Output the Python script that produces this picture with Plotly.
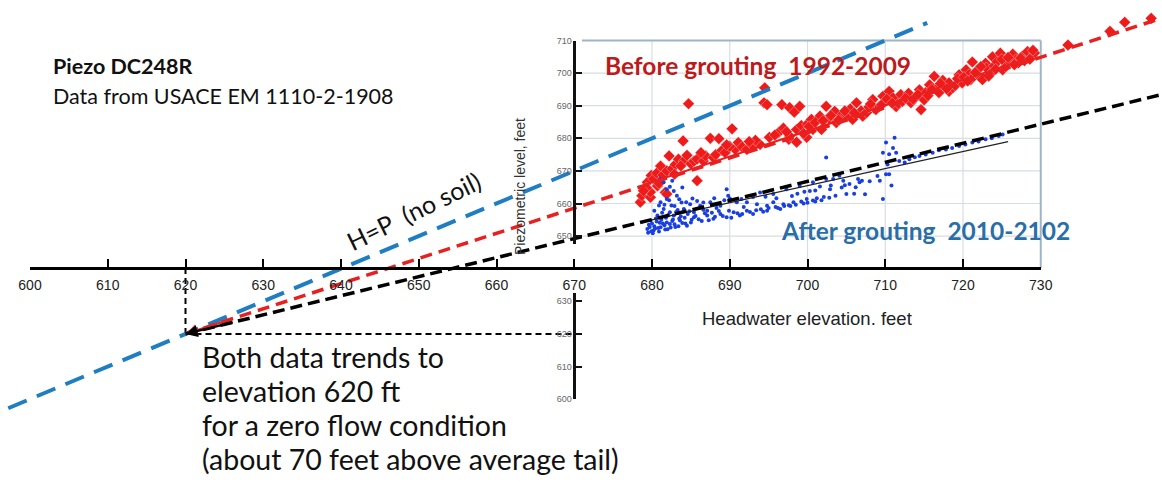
import plotly.graph_objects as go

W, H = 1162, 488
# pixel calibration of the picture (layout constants)
X0_PX, X0_VAL, SX = 30.0, 600.0, 7.775
Y0_PX, Y0_VAL, SY = 40.5, 710.0, 3.26


def xpx(v):
    return X0_PX + (v - X0_VAL) * SX


def ypx(v):
    return Y0_PX + (Y0_VAL - v) * SY


def fx(px):
    return px / W


def fy(py):
    return 1 - py / H


# ---------------- data ----------------
main_ticks = [600, 610, 620, 630, 640, 650, 660, 670, 680, 690, 700, 710, 720, 730]
inset_upper_ticks = [650, 660, 670, 680, 690, 700, 710]
inset_lower_ticks = [600, 610, 620, 630]
grid_x = [680, 690, 700, 710, 720]
grid_y = [650, 660, 670, 680, 690, 700]
inset_x_range = [670, 730]
inset_y_range = [640.2, 710]

before_x = [678.5, 678.7, 679.4, 679.8, 679.8, 679.9, 680.2, 680.6, 680.7, 681.1,
            681.4, 681.7, 681.9, 681.9, 682.2, 682.6, 683.0, 683.4, 684.0, 684.1,
            684.7, 685.0, 685.4, 685.8, 685.8, 686.6, 686.9, 687.5, 687.9, 688.2,
            688.6, 689.0, 689.4, 690.3, 690.7, 691.1, 691.6, 692.2, 692.9, 693.9,
            694.4, 694.5, 694.8, 695.1, 696.3, 696.7, 696.9, 697.6, 697.7, 697.7,
            698.3, 698.6, 698.6, 699.0, 699.2, 699.9, 700.0, 700.5, 700.7, 701.6,
            701.8, 702.4, 702.8, 703.5, 703.7, 704.3, 705.0, 705.5, 705.8, 706.3,
            706.9, 707.1, 707.6, 708.4, 708.8, 709.2, 709.7, 709.9, 710.5, 711.0,
            711.4, 711.7, 712.0, 712.2, 713.0, 713.3, 713.9, 714.4, 714.6, 715.0,
            715.2, 715.7, 716.3, 716.9, 716.9, 717.4, 718.2, 718.2, 718.7, 719.0,
            719.5, 719.9, 720.4, 720.8, 721.0, 721.2, 721.9, 722.0, 722.5, 722.9,
            723.0, 723.6, 723.8, 724.0, 724.4, 724.8, 725.1, 725.5, 726.0, 726.4,
            726.8, 727.1, 727.6, 727.9, 728.3, 728.9, 729.2, 733.5, 738.9, 740.8,
            744.2,
            699.5, 700.2, 701.0, 702.0, 703.0, 704.0, 704.8, 706.0, 707.9, 708.1,
            709.5, 710.2, 710.9, 712.6, 713.6, 714.2, 715.5, 716.0, 717.1, 717.9,
            719.3, 720.1, 720.6, 721.6, 722.3, 723.3, 724.2, 725.0, 725.8, 726.6,
            727.4, 728.6, 729.0, 697.3, 695.8, 693.3, 692.5, 690.0, 689.6, 686.3,
            684.5, 683.7, 682.9, 680.9, 679.3, 678.9]
before_y = [660.4, 662.4, 666.5, 661.9, 663.5, 668.6, 667.5, 669.3, 665.4, 671.5,
            668.7, 663.4, 670.0, 662.9, 674.6, 670.7, 672.0, 673.6, 679.2, 673.0,
            690.6, 672.2, 673.0, 667.0, 673.6, 673.0, 674.6, 680.0, 674.1, 675.0,
            679.9, 676.3, 675.6, 682.9, 676.6, 678.7, 677.3, 676.6, 677.8, 678.1,
            690.9, 695.5, 690.3, 680.3, 681.8, 690.3, 683.1, 679.7, 689.4, 680.7,
            688.0, 682.7, 678.8, 689.8, 683.9, 680.3, 684.4, 685.8, 682.7, 686.8,
            682.7, 689.8, 686.0, 688.3, 684.8, 686.9, 687.3, 689.0, 685.8, 690.9,
            688.4, 686.8, 687.9, 691.9, 688.8, 689.7, 692.9, 691.2, 694.4, 692.4,
            689.7, 690.7, 693.4, 691.3, 693.8, 690.9, 692.5, 694.9, 688.8, 691.8,
            694.0, 696.4, 699.0, 695.9, 694.0, 697.8, 697.0, 694.4, 695.5, 696.2,
            699.5, 697.0, 701.0, 699.6, 698.0, 703.4, 701.0, 699.2, 698.0, 703.0,
            701.6, 700.0, 705.0, 702.2, 703.5, 706.1, 701.0, 702.0, 703.5, 705.8,
            704.1, 703.1, 705.1, 703.8, 706.6, 705.1, 706.2, 708.6, 712.8, 715.6,
            716.8,
            681.5, 683.6, 684.9, 685.4, 687.0, 685.6, 688.4, 687.8, 689.6, 690.5,
            690.2, 692.0, 690.8, 692.3, 692.0, 693.4, 693.1, 695.0, 696.8, 695.2,
            698.3, 698.7, 697.6, 700.2, 702.0, 699.1, 701.2, 704.2, 704.8, 702.6,
            704.6, 704.3, 707.0, 682.0, 681.0, 679.4, 679.0, 677.5, 678.0, 675.6,
            674.8, 671.5, 669.0, 666.2, 664.8, 663.9]

after_x = [679.4, 679.6, 679.8, 679.9, 680.2, 680.3, 680.5, 680.7, 680.8, 681.0,
           681.1, 681.1, 681.3, 681.5, 681.5, 681.6, 681.8, 681.9, 681.9, 682.0,
           682.3, 682.3, 682.3, 682.5, 682.6, 682.8, 683.0, 683.2, 683.3, 683.5,
           683.6, 683.8, 684.1, 684.3, 684.6, 684.9, 685.1, 685.4, 685.4, 685.8,
           686.2, 686.4, 686.8, 687.1, 687.1, 687.5, 687.9, 688.3, 688.8, 688.8,
           689.3, 689.6, 689.6, 689.8, 690.5, 690.9, 691.3, 691.8, 692.2, 692.2,
           693.0, 693.5, 693.9, 694.3, 694.8, 694.8, 695.6, 695.6, 696.2, 696.5,
           696.9, 697.3, 697.8, 698.2, 698.7, 699.0, 699.5, 699.9, 700.3, 700.7,
           700.7, 701.2, 701.6, 702.1, 702.4, 702.4, 702.9, 702.8, 703.3, 703.6,
           704.1, 704.4, 704.6, 705.0, 705.4, 706.0, 706.5, 706.7, 707.4, 709.3,
           709.7, 709.7, 710.1, 710.1, 710.5, 710.5, 711.2, 711.4, 711.8, 712.5,
           713.1, 713.8, 714.4, 715.2, 716.1, 716.9, 717.8, 718.6, 719.5, 720.3,
           721.2, 722.0, 722.9, 723.7, 724.6, 725.1,
           679.5, 679.7, 680.0, 680.1, 680.4, 680.6, 680.9, 681.2, 681.4, 681.7,
           681.9, 682.1, 682.4, 682.7, 682.9, 683.1, 683.4, 683.7, 683.9, 684.2,
           684.5, 684.8, 685.0, 685.6, 686.0, 686.6, 687.3, 687.7, 688.1, 688.6,
           689.1, 689.9, 690.2, 691.0, 691.6, 692.6, 693.4, 694.0, 695.0, 695.9,
           697.0, 697.6, 698.5, 699.2, 700.0, 701.0, 701.8, 680.3, 680.9, 681.6,
           682.2, 682.9, 683.5, 684.4, 685.2, 686.6, 688.0, 690.0, 691.5, 693.0,
           694.6, 696.0, 698.0, 699.6, 701.0, 703.0, 704.8, 706.2, 707.0, 708.0,
           709.0, 710.3, 711.0, 710.8, 681.0, 682.6, 682.8, 683.9]
after_y = [652.2, 653.5, 654.8, 651.5, 651.7, 653.0, 655.4, 656.3, 652.5, 654.1,
           652.7, 660.4, 657.2, 658.3, 666.5, 653.3, 655.6, 661.4, 664.4, 652.1,
           653.7, 657.3, 665.1, 659.4, 654.6, 656.3, 652.8, 662.4, 658.0, 655.3,
           654.8, 660.3, 658.3, 653.9, 656.8, 659.8, 655.0, 655.8, 657.3, 660.8,
           659.3, 654.6, 657.0, 656.3, 657.8, 660.4, 655.3, 658.6, 656.8, 659.3,
           661.0, 655.8, 664.4, 662.4, 657.3, 660.4, 656.3, 658.9, 657.8, 660.4,
           656.8, 659.8, 663.4, 657.5, 657.8, 659.3, 660.4, 662.9, 658.6, 658.3,
           659.8, 664.4, 659.2, 660.4, 663.0, 665.4, 660.0, 661.4, 663.8, 660.9,
           666.5, 661.6, 665.2, 662.0, 667.5, 674.1, 664.4, 661.8, 667.5, 662.4,
           668.5, 664.9, 667.0, 662.9, 666.0, 663.0, 667.5, 666.5, 662.8, 667.0,
           661.4, 675.6, 669.0, 678.7, 669.0, 675.1, 680.2, 675.6, 673.0, 672.6,
           673.6, 674.2, 674.6, 675.0, 675.6, 676.3, 676.6, 677.0, 677.6, 678.1,
           678.7, 679.0, 679.7, 680.0, 680.7, 681.2,
           651.0, 652.8, 653.9, 650.9, 652.3, 654.5, 651.4, 655.0, 653.9, 652.0,
           654.2, 656.5, 652.6, 655.1, 653.6, 657.4, 653.0, 656.1, 654.0, 655.6,
           653.2, 657.6, 654.2, 656.2, 655.2, 658.1, 654.9, 657.2, 655.9, 657.7,
           656.2, 657.8, 655.6, 657.0, 656.8, 657.4, 657.9, 658.2, 658.6, 658.9,
           659.2, 659.5, 659.6, 660.6, 660.2, 660.6, 661.0, 657.8, 659.4, 659.6,
           661.0, 659.2, 661.3, 660.4, 661.5, 660.3, 661.6, 661.5, 661.4, 662.0,
           662.1, 661.6, 662.3, 663.6, 664.0, 665.5, 665.6, 665.0, 667.0, 666.8,
           668.4, 672.0, 677.0, 665.5, 667.5, 667.0, 663.8, 664.9]

# trend lines
hp_x = [597.2, 715.4]
hp_y = [597.2, 715.4]
before_trend_x = [620.0, 745.5]
before_trend_y = [620.0, 716.8]
after_trend_x = [620.0, 745.5]
after_trend_y = [620.0, 693.4]
before_fit_x = [679.5, 729.0]
before_fit_y = [666.2, 705.0]
after_fit_x = [680.0, 725.8]
after_fit_y = [655.0, 679.0]
zero_flow = (620.0, 620.0)
v_guide_x = [620.0, 620.0]
v_guide_y = [640.2, 620.0]
h_guide_x = [620.0, 670.0]
h_guide_y = [620.0, 620.0]

# ---------------- figure ----------------
xr_full = [X0_VAL - X0_PX / SX, X0_VAL + (W - X0_PX) / SX]
yr_full = [Y0_VAL - (H - Y0_PX) / SY, Y0_VAL + Y0_PX / SY]

BLUE_LINE = "#1f7ec2"
RED_LINE = "#e82020"
RED_MK = "#ef1a1a"
BLUE_MK = "#1a3fe0"

fig = go.Figure()

fig.add_trace(go.Scatter(x=before_x, y=before_y, mode="markers",
                         marker=dict(symbol="diamond", size=9, color=RED_MK,
                                     line=dict(color="rgba(255,255,255,0.55)", width=0.6)),
                         showlegend=False, hoverinfo="skip"))
fig.add_trace(go.Scatter(x=after_x, y=after_y, mode="markers",
                         marker=dict(symbol="circle", size=4, color=BLUE_MK),
                         showlegend=False, hoverinfo="skip"))
fig.add_trace(go.Scatter(x=before_fit_x, y=before_fit_y, mode="lines",
                         line=dict(color=RED_LINE, width=2), showlegend=False))
fig.add_trace(go.Scatter(x=after_fit_x, y=after_fit_y, mode="lines",
                         line=dict(color="#222222", width=1.2), showlegend=False))
fig.add_trace(go.Scatter(x=v_guide_x, y=v_guide_y, mode="lines",
                         line=dict(color="black", width=2, dash="6px,4px"), showlegend=False))
fig.add_trace(go.Scatter(x=h_guide_x, y=h_guide_y, mode="lines",
                         line=dict(color="black", width=2, dash="6px,4px"), showlegend=False))
fig.add_trace(go.Scatter(x=hp_x, y=hp_y, mode="lines",
                         line=dict(color=BLUE_LINE, width=4, dash="20px,11px"), showlegend=False))
fig.add_trace(go.Scatter(x=before_trend_x, y=before_trend_y, mode="lines",
                         line=dict(color=RED_LINE, width=3.5, dash="12px,7px"), showlegend=False))
fig.add_trace(go.Scatter(x=after_trend_x, y=after_trend_y, mode="lines",
                         line=dict(color="black", width=3.5, dash="12px,6px"), showlegend=False))

# dummy traces registering the display-only axes
fig.add_trace(go.Scatter(x=[], y=[], xaxis="x2", yaxis="y", showlegend=False))
fig.add_trace(go.Scatter(x=[], y=[], xaxis="x", yaxis="y2", showlegend=False))
fig.add_trace(go.Scatter(x=[], y=[], xaxis="x", yaxis="y3", showlegend=False))

# inset grid and frame
for gx in grid_x:
    fig.add_shape(type="line", xref="x", yref="y", x0=gx, x1=gx,
                  y0=inset_y_range[0], y1=inset_y_range[1],
                  line=dict(color="#d6dde4", width=1.2), layer="below")
for gy in grid_y:
    fig.add_shape(type="line", xref="x", yref="y", x0=inset_x_range[0], x1=inset_x_range[1],
                  y0=gy, y1=gy, line=dict(color="#d6dde4", width=1.2), layer="below")
fig.add_shape(type="line", xref="x", yref="y", x0=inset_x_range[0] + 1, x1=inset_x_range[1],
              y0=inset_y_range[1], y1=inset_y_range[1],
              line=dict(color="#9fb4c8", width=2), layer="below")
fig.add_shape(type="line", xref="x", yref="y", x0=inset_x_range[1], x1=inset_x_range[1],
              y0=inset_y_range[0], y1=inset_y_range[1],
              line=dict(color="#9fb4c8", width=2), layer="below")

upper_seg = [647.5, 710]
lower_seg = [600, 632.5]

fig.update_layout(
    width=W, height=H,
    margin=dict(l=0, r=0, t=0, b=0, autoexpand=False),
    paper_bgcolor="white", plot_bgcolor="rgba(0,0,0,0)",
    showlegend=False,
    xaxis=dict(range=xr_full, domain=[0, 1], visible=False, fixedrange=True),
    yaxis=dict(range=yr_full, domain=[0, 1], visible=False, fixedrange=True),
    xaxis2=dict(range=[main_ticks[0], main_ticks[-1]],
                domain=[fx(xpx(main_ticks[0])), fx(xpx(main_ticks[-1]))],
                anchor="free", position=fy(ypx(inset_y_range[0])),
                showline=True, linecolor="black", linewidth=2.5,
                ticks="inside", ticklen=8, tickwidth=2, tickcolor="black",
                tickvals=main_ticks, ticktext=[str(t) for t in main_ticks],
                tickfont=dict(family="Liberation Sans, Arial", size=14, color="#222222"),
                ticklabelstandoff=3,
                showgrid=False, zeroline=False, fixedrange=True),
    yaxis2=dict(range=upper_seg,
                domain=[fy(ypx(upper_seg[0])), fy(ypx(upper_seg[1]))],
                anchor="free", position=fx(xpx(670)),
                showline=True, linecolor="#111111", linewidth=2.5,
                ticks="inside", ticklen=6, tickwidth=2, tickcolor="#111111",
                tickvals=inset_upper_ticks,
                tickfont=dict(family="Liberation Sans, Arial", size=9, color="#666666"),
                showgrid=False, zeroline=False, fixedrange=True),
    yaxis3=dict(range=lower_seg,
                domain=[fy(ypx(lower_seg[0])), fy(ypx(lower_seg[1]))],
                anchor="free", position=fx(xpx(670)),
                showline=True, linecolor="#111111", linewidth=2.5,
                ticks="inside", ticklen=6, tickwidth=2, tickcolor="#111111",
                tickvals=inset_lower_ticks,
                tickfont=dict(family="Liberation Sans, Arial", size=9, color="#666666"),
                showgrid=False, zeroline=False, fixedrange=True),
)

# arrowheads at the zero-flow point
for tx, ty, col in [(before_trend_x, before_trend_y, RED_LINE),
                    (after_trend_x, after_trend_y, "black")]:
    ax_ = tx[0] + 0.05 * (tx[1] - tx[0])
    ay_ = ty[0] + 0.05 * (ty[1] - ty[0])
    fig.add_annotation(x=zero_flow[0], y=zero_flow[1], ax=ax_, ay=ay_,
                       xref="x", yref="y", axref="x", ayref="y", text="",
                       showarrow=True, arrowhead=2, arrowsize=1.1, arrowwidth=2.2,
                       arrowcolor=col)

CAL = "Lato, Carlito, Calibri, sans-serif"
OPEN = "Open Sans, Lato, sans-serif"


def txt(text, px, py, size, color="#111111", bold=False, anchor="left", angle=0, family=CAL):
    fig.add_annotation(x=fx(px), y=fy(py), xref="paper", yref="paper",
                       text=f"<b>{text}</b>" if bold else text, showarrow=False,
                       xanchor=anchor, yanchor="middle", textangle=angle,
                       font=dict(family=family, size=size, color=color))


txt("Piezo DC248R", 51, 66, 21.5, bold=True)
txt("Data from USACE EM 1110-2-1908", 51, 96, 21.5)
txt("Before grouting\u00a0 1992-2009", 603, 65, 24.5, color="#bd1b1b", bold=True)
txt("After grouting\u00a0 2010-2102", 779, 230, 24.5, color="#2a6ea8", bold=True)
txt("H=P\u00a0 (no soil)", 413, 211, 25, anchor="center", angle=-26)
txt("Piezometric level, feet", 520, 187, 14, color="#333333", anchor="center", angle=-90,
    family="Liberation Sans, Arial")
txt("Headwater elevation. feet", xpx(700), 318, 18.5, color="#222222", anchor="center",
    family="Liberation Sans, Arial")

lower_lines = ["Both data trends to", "elevation 620 ft", "for a zero flow condition",
               "(about 70 feet above average tail)"]
for i, line in enumerate(lower_lines):
    txt(line, 200, 357 + 34 * i, 28.5)

fig.write_html("out.html")
